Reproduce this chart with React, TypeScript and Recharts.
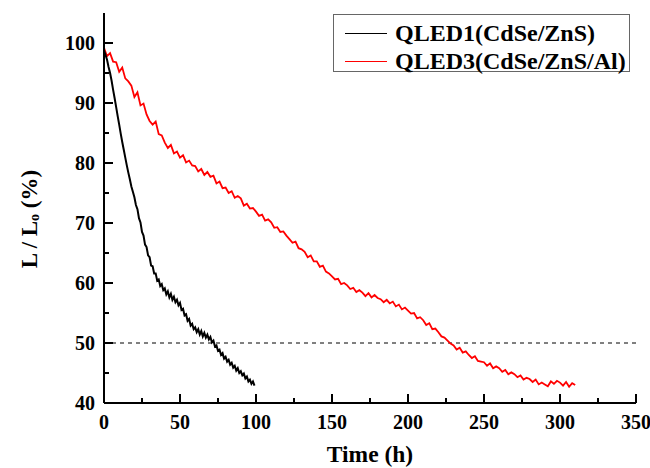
import React from 'react';
import { LineChart, Line, XAxis, YAxis, ReferenceLine } from 'recharts';

const qled1Time: number[] = Array.from({ length: 100 }, (_, i) => i);
const qled1Values: number[] = [
  98.8, 98.0, 97.2, 96.0, 95.0, 93.7, 92.2, 90.8, 89.3, 87.8,
  86.4, 84.9, 83.5, 82.2, 80.9, 79.6, 78.4, 77.3, 76.1, 75.2,
  74.3, 73.0, 72.3, 70.8, 70.1, 68.5, 67.9, 66.4, 66.0, 64.6,
  64.3, 62.9, 62.8, 61.6, 61.6, 60.4, 60.6, 59.5, 59.8, 58.8,
  59.1, 58.1, 58.6, 57.6, 58.2, 57.2, 57.7, 56.8, 57.2, 56.3,
  56.7, 55.5, 55.7, 54.6, 54.8, 53.7, 54.0, 52.9, 53.2, 52.3,
  52.6, 51.8, 52.3, 51.4, 52.0, 51.1, 51.7, 50.9, 51.4, 50.6,
  51.0, 50.1, 50.4, 49.4, 49.6, 48.7, 48.9, 48.0, 48.3, 47.4,
  47.7, 46.9, 47.2, 46.4, 46.7, 45.9, 46.2, 45.4, 45.8, 45.0,
  45.3, 44.6, 44.9, 44.1, 44.4, 43.6, 43.9, 43.2, 43.6, 42.9,
];

const qled3Time: number[] = Array.from({ length: 156 }, (_, i) => i * 2);
const qled3Values: number[] = [
  99.2, 97.8, 98.3, 96.9, 96.8,
  95.2, 95.9, 94.1, 93.6, 92.9,
  91.0, 91.8, 89.6, 89.9, 88.1,
  87.0, 86.4, 86.9, 84.8, 84.6,
  83.4, 82.5, 83.0, 81.6, 81.9,
  80.9, 81.3, 80.1, 80.4, 79.6,
  79.5, 78.6, 79.0, 78.0, 78.5,
  77.7, 77.9, 76.6, 76.9, 75.8,
  75.9, 75.0, 75.3, 74.2, 74.5,
  74.1, 72.9, 73.2, 72.4, 72.5,
  71.9, 71.2, 71.4, 70.4, 70.6,
  70.1, 69.2, 69.3, 68.5, 68.6,
  67.9, 67.3, 66.7, 66.9, 65.8,
  65.6, 65.2, 64.3, 64.6, 63.6,
  63.6, 62.7, 62.9, 61.9, 61.6,
  61.1, 60.6, 60.7, 59.8, 60.0,
  59.6, 59.0, 59.2, 58.5, 58.8,
  58.4, 57.8, 58.3, 57.6, 58.0,
  57.5, 57.3, 56.8, 57.2, 56.6,
  56.9, 56.1, 56.4, 55.6, 55.9,
  55.4, 54.9, 55.0, 54.1, 54.3,
  53.8, 53.0, 53.3, 52.3, 52.4,
  51.8, 51.1, 50.9, 50.4, 49.9,
  49.6, 48.9, 49.2, 48.4, 48.6,
  48.0, 47.5, 47.8, 47.0, 46.9,
  46.8, 46.2, 46.6, 45.8, 46.1,
  45.8, 45.2, 45.5, 44.8, 45.1,
  44.8, 44.3, 44.6, 43.9, 44.2,
  44.0, 43.5, 43.9, 43.1, 43.4,
  43.1, 42.8, 43.6, 43.2, 43.7,
  43.4, 42.9, 43.5, 42.7, 43.3,
  43.0,
];

const X_DOMAIN: [number, number] = [0, 350];
const Y_DOMAIN: [number, number] = [40, 105];
const xMajor: number[] = [0, 50, 100, 150, 200, 250, 300, 350];
const xMinor: number[] = [25, 75, 125, 175, 225, 275, 325];
const yMajor: number[] = [40, 50, 60, 70, 80, 90, 100];
const yMinor: number[] = [45, 55, 65, 75, 85, 95];
const halfLife = 50;

const seriesNames = ['QLED1(CdSe/ZnS)', 'QLED3(CdSe/ZnS/Al)'];
const seriesColors = ['#000000', '#ff0000'];

const qled1Data = qled1Time.map((t, i) => ({ t, v: qled1Values[i] }));
const qled3Data = qled3Time.map((t, i) => ({ t, v: qled3Values[i] }));

const FONT = '"Liberation Serif", "Times New Roman", serif';
const AX = { stroke: '#000', strokeWidth: 2 };

// plot box size (px) used to express inward tick lengths in data units
const PLOT_W = 532;
const PLOT_H = 390;
const xPerPx = (X_DOMAIN[1] - X_DOMAIN[0]) / PLOT_W;
const yPerPx = (Y_DOMAIN[1] - Y_DOMAIN[0]) / PLOT_H;

const XTickLabel = (props: any) => {
  const { x, y, payload } = props;
  return (
    <text x={x} y={y + 25.5} textAnchor="middle" fontFamily={FONT} fontWeight="bold" fontSize={20} fill="#000">
      {payload.value}
    </text>
  );
};

const YTickLabel = (props: any) => {
  const { x, y, payload } = props;
  return (
    <text x={x} y={y + 6.5} textAnchor="end" fontFamily={FONT} fontWeight="bold" fontSize={20} fill="#000">
      {payload.value}
    </text>
  );
};

const LegendBox = () => (
  <div
    style={{
      position: 'absolute',
      left: 333,
      top: 14,
      width: 297,
      height: 58,
      border: '1px solid #666',
      background: '#fff',
      boxSizing: 'border-box',
      fontFamily: FONT,
      fontWeight: 'bold',
      fontSize: 24,
      color: '#000',
      paddingTop: 4,
    }}
  >
    {seriesNames.map((n, i) => (
      <div key={n} style={{ display: 'flex', alignItems: 'center', height: 28, lineHeight: '28px' }}>
        <div style={{ width: 42, height: 1, background: seriesColors[i], marginLeft: 11, marginRight: 8 }} />
        <span style={{ whiteSpace: 'nowrap' }}>{n}</span>
      </div>
    ))}
  </div>
);

export default function App() {
  const yTick = (v: number, len: number) => (
    <ReferenceLine
      key={`y${v}`}
      xAxisId="b"
      yAxisId="l"
      segment={[{ x: X_DOMAIN[0], y: v }, { x: X_DOMAIN[0] + len * xPerPx, y: v }]}
      stroke="#000"
      strokeWidth={2}
      ifOverflow="visible"
    />
  );
  const xTick = (v: number, len: number) => (
    <ReferenceLine
      key={`x${v}`}
      xAxisId="b"
      yAxisId="l"
      segment={[{ x: v, y: Y_DOMAIN[0] }, { x: v, y: Y_DOMAIN[0] + len * yPerPx }]}
      stroke="#000"
      strokeWidth={2}
      ifOverflow="visible"
    />
  );
  return (
    <div style={{ position: 'absolute', left: 0, top: 0, width: 650, height: 468, background: '#fff' }}>
      <LineChart width={650} height={468} margin={{ top: 13, right: 14, left: 0, bottom: 0 }}>
        <XAxis
          xAxisId="b"
          dataKey="t"
          type="number"
          domain={X_DOMAIN}
          ticks={xMajor}
          interval={0}
          tick={<XTickLabel />}
          tickSize={0}
          tickMargin={0}
          height={65}
          axisLine={AX}
          tickLine={false}
          allowDataOverflow
          label={() => (
            <text x={370} y={462} textAnchor="middle" fontFamily={FONT} fontWeight="bold" fontSize={23.5} fill="#000">
              Time (h)
            </text>
          )}
        />
        <XAxis
          xAxisId="top"
          orientation="top"
          type="number"
          domain={X_DOMAIN}
          height={0}
          tick={false}
          tickLine={false}
          axisLine={AX}
        />
        <YAxis
          yAxisId="l"
          type="number"
          domain={Y_DOMAIN}
          ticks={yMajor}
          interval={0}
          tick={<YTickLabel />}
          tickSize={0}
          tickMargin={9}
          width={104}
          axisLine={AX}
          tickLine={false}
          allowDataOverflow
          label={() => {
            const cx = 37;
            const cy = 219;
            return (
              <text
                x={cx}
                y={cy}
                transform={`rotate(-90, ${cx}, ${cy})`}
                textAnchor="middle"
                fontFamily={FONT}
                fontWeight="bold"
                fontSize={23}
                fill="#000"
              >
                <tspan>L / L</tspan>
                <tspan fontSize={14} dy={1.5}>o</tspan>
                <tspan dy={-1.5}> (%)</tspan>
              </text>
            );
          }}
        />
        <YAxis
          yAxisId="r"
          orientation="right"
          type="number"
          domain={Y_DOMAIN}
          width={0}
          tick={false}
          tickLine={false}
          axisLine={AX}
        />
        {yMajor.map((v) => yTick(v, 9))}
        {yMinor.map((v) => yTick(v, 5))}
        {xMajor.map((v) => xTick(v, 9))}
        {xMinor.map((v) => xTick(v, 5))}
        <ReferenceLine
          xAxisId="b"
          yAxisId="l"
          y={halfLife}
          stroke="#000"
          strokeWidth={1}
          strokeDasharray="4 4"
        />
        <Line
          xAxisId="b"
          yAxisId="l"
          data={qled3Data}
          dataKey="v"
          name={seriesNames[1]}
          stroke={seriesColors[1]}
          strokeWidth={1.8}
          dot={false}
          isAnimationActive={false}
        />
        <Line
          xAxisId="b"
          yAxisId="l"
          data={qled1Data}
          dataKey="v"
          name={seriesNames[0]}
          stroke={seriesColors[0]}
          strokeWidth={2}
          dot={false}
          isAnimationActive={false}
        />
      </LineChart>
      <LegendBox />
    </div>
  );
}
